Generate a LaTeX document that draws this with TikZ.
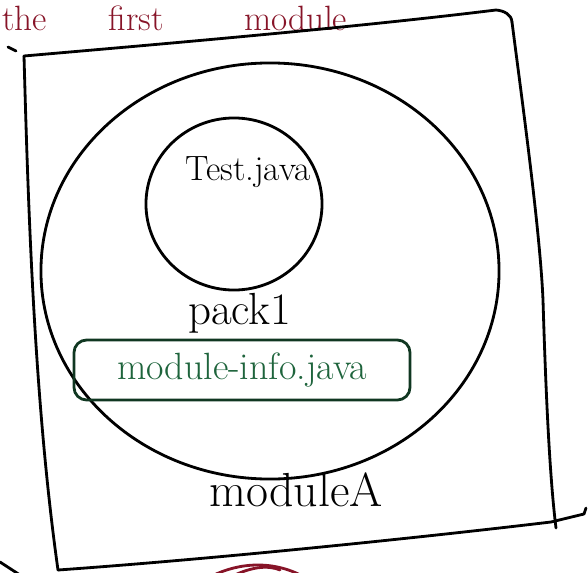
\documentclass[tikz,border=0pt]{standalone}
\usepackage{tikz}
\usepackage{color}
\usetikzlibrary{shapes, calc, positioning}
\definecolor{inkred}{RGB}{135,20,40}
\definecolor{inkgreen}{RGB}{30,100,60}
\tikzset{
  pen/.style     = {line width=2pt, line cap=round, line join=round},% marker stroke
  ring/.style    = {ellipse, draw, pen, inner sep=0pt},
  lbl/.style     = {inner sep=0pt, text=black},
  infobox/.style = {rectangle, draw=inkgreen!55!black, pen, rounded corners=9pt,
                    text=inkgreen, inner sep=0pt}
}

\begin{document}
\begin{tikzpicture}
  [
    x = 0.025cm, y = -0.025cm,
    every node/.style = {font=\fontsize{30}{30}\selectfont}
  ]
  \useasboundingbox (0,0) rectangle (588,573);
  \clip (0,0) rectangle (588,573);

  % heading along the top edge
  \node [lbl, text=inkred, anchor=base west, font=\fontsize{25}{25}\selectfont] (head)
    at (2,30) {the\hspace{44pt}first\hspace{57pt}module};

  % the module box, drawn by hand
  \draw [pen] (24,56) .. controls (150,45) and (350,28) .. (496,10)
              to [out=-5, in=95] (512,22);
  \draw [pen] (512,22) .. controls (522,100) and (540,230) .. (543,300)
              .. controls (546,400) and (550,480) .. (556,528);
  \draw [pen] (24,56) .. controls (28,200) and (34,400) .. (58,570);
  \draw [pen] (58,570) .. controls (200,560) and (400,540) .. (551,522)
              -- (584,514) -- (586,508);
  \draw [pen] (8,47) -- (16,51);
  \draw [pen] (0,562) -- (20,575);
  \draw [pen, inkred] (212,576) .. controls (240,562) and (275,560) .. (306,578);
  \draw [pen, inkred] (225,580) .. controls (250,566) and (268,565) .. (280,570);

  % module and package
  \node [ring, minimum width=11.45cm, minimum height=10.4cm] (modA) at (270,271) {};
  \node [ring, minimum width=4.4cm, minimum height=4.3cm] (pack) at (234,204) {};

  \node [lbl, font=\fontsize{25}{25}\selectfont] (test) at (248,172) {Test.java};
  \node [lbl, font=\fontsize{32}{32}\selectfont, below=1pt of pack.south, xshift=4pt] (packname) {pack1};

  \node [infobox, minimum width=8.4cm, minimum height=1.5cm,
         font=\fontsize{27}{27}\selectfont] (info) at (242,370) {module-info.java};

  \node [lbl, font=\fontsize{34}{34}\selectfont] (modname) at (296,490) {moduleA};
\end{tikzpicture}
\end{document}
